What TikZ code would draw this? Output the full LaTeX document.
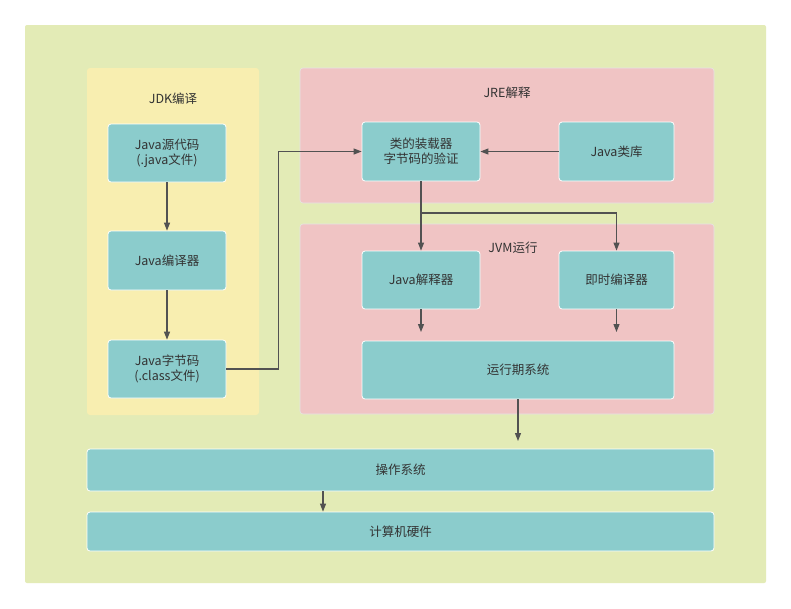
\documentclass[tikz,border=0pt]{standalone}
\usepackage{fontspec}
\setmainfont{Noto Sans CJK SC}
\usetikzlibrary{arrows.meta}
\definecolor{bggreen}{HTML}{E3EBB6}
\definecolor{jdkyellow}{HTML}{F8EEB0}
\definecolor{jrepink}{HTML}{F0C4C4}
\definecolor{boxteal}{HTML}{8BCCCC}
\definecolor{txt}{HTML}{333333}
\begin{document}
\begin{tikzpicture}[x=1pt,y=-1pt,
    panel/.style={draw=white!90!black,line width=0.6pt,rounded corners=3pt,inner sep=0pt},
    box/.style={draw=white,line width=0.8pt,fill=boxteal,rounded corners=3pt,inner sep=0pt,
      text=txt,font=\fontsize{12.5}{15}\selectfont,align=center},
    title/.style={text=txt,font=\fontsize{12.5}{15}\selectfont},
    arr/.style={-{Triangle[length=8pt,width=6pt]},line width=1.1pt,draw=txt!85!white}]
  \useasboundingbox[fill=white] (0,0) rectangle (791,608);
  \fill[bggreen,rounded corners=2pt] (25,25) rectangle (766,583);
  % panels
  \node[panel,fill=jdkyellow,draw=none,minimum width=172pt,minimum height=347pt] (jdk) at (173,241.5) {};
  \node[panel,fill=jrepink,minimum width=414pt,minimum height=135pt] (jre) at (507,135.5) {};
  \node[panel,fill=jrepink,minimum width=414pt,minimum height=190pt] (jvm) at (507,319) {};
  \node[title] (jdkt) at (173,99) {JDK编译};
  \node[title] (jret) at (507,93) {JRE解释};
  \node[title] (jvmt) at (513,248) {JVM运行};
  % boxes
  \node[box,minimum width=118pt,minimum height=58pt] (src) at (167,153) {Java源代码\\(.java文件)};
  \node[box,minimum width=118pt,minimum height=59pt] (javac) at (167,260.5) {Java编译器};
  \node[box,minimum width=118pt,minimum height=58pt] (bytecode) at (167,369) {Java字节码\\(.class文件)};
  \node[box,minimum width=118pt,minimum height=59pt] (loader) at (421,151.5) {类的装载器\\字节码的验证};
  \node[box,minimum width=115pt,minimum height=59pt] (lib) at (616.5,151.5) {Java类库};
  \node[box,minimum width=118pt,minimum height=58pt] (interp) at (421,280) {Java解释器};
  \node[box,minimum width=115pt,minimum height=58pt] (jit) at (616.5,280) {即时编译器};
  \node[box,minimum width=312pt,minimum height=58pt] (runtime) at (518,370) {运行期系统};
  \node[box,minimum width=627pt,minimum height=42pt] (os) at (400.5,470) {操作系统};
  \node[box,minimum width=627pt,minimum height=39pt] (hw) at (400.5,531.5) {计算机硬件};
  % free ends
  \coordinate (split) at (421,213);
  \coordinate (interpend) at (421,332);
  \coordinate (jitend) at (616.5,332);
  \coordinate (runend) at (518,441);
  \coordinate (oscol) at (323,0);
  % connectors
  \draw[arr] (src) -- (javac);
  \draw[arr] (javac) -- (bytecode);
  \draw[arr] (bytecode.east) -- ++(52,0) |- (loader.west);
  \draw[arr] (lib) -- (loader);
  \draw[arr] (loader) -- (interp);
  \draw[arr] (split) -| (jit.north);
  \draw[arr] (interp) -- (interpend);
  \draw[arr] (jit) -- (jitend);
  \draw[arr] (runtime.south) -- (runend);
  \draw[arr] (os.south -| oscol) -- (hw.north -| oscol);
\end{tikzpicture}
\end{document}
